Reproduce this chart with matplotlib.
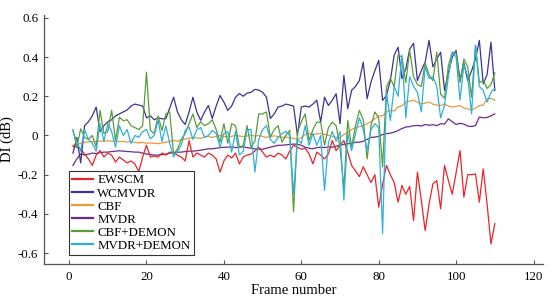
import matplotlib
matplotlib.use("Agg")
import matplotlib.pyplot as plt
import numpy as np

plt.rcParams['font.family'] = ['Liberation Serif', 'DejaVu Serif']

frames = list(range(1, 111))

ewscm = [-0.055, -0.06, -0.07, -0.094, -0.12, -0.153, -0.1, -0.077, -0.11, -0.09,
         -0.1, -0.136, -0.11, -0.125, -0.14, -0.13, -0.145, -0.184, -0.11, -0.05,
         -0.11, -0.105, -0.11, -0.09, -0.1, -0.085, -0.09, -0.1, -0.11, -0.13,
         -0.026, -0.11, -0.09, -0.1, -0.11, -0.09, -0.1, -0.12, -0.187, -0.13,
         -0.1, -0.115, -0.09, -0.145, -0.11, -0.1, -0.095, -0.08, -0.06, -0.085,
         -0.11, -0.1, -0.11, -0.09, -0.1, -0.12, -0.08, -0.05, -0.06, -0.07,
         -0.065, -0.094, -0.145, -0.085, -0.1, -0.12, -0.094, -0.026, -0.077, -0.05,
         -0.026, -0.085, -0.153, -0.18, -0.21, -0.16, -0.2, -0.24, -0.2, -0.366,
         -0.25, -0.153, -0.2, -0.24, -0.34, -0.255, -0.3, -0.26, -0.434, -0.187,
         -0.33, -0.485, -0.35, -0.247, -0.23, -0.374, -0.153, -0.23, -0.3, -0.19,
         -0.077, -0.315, -0.2, -0.2, -0.196, -0.34, -0.17, -0.35, -0.553, -0.45]

wcmvdr = [-0.09, -0.01, -0.14, 0.05, 0.07, 0.10, 0.145, 0.02, 0.05, 0.07,
          0.08, 0.10, 0.11, 0.12, 0.13, 0.15, 0.16, 0.155, 0.15, 0.09,
          0.10, 0.08, 0.09, 0.085, 0.085, 0.14, 0.195, 0.12, 0.08, 0.056,
          0.12, 0.195, 0.12, 0.077, 0.12, 0.153, 0.087, 0.15, 0.204, 0.17,
          0.128, 0.15, 0.195, 0.214, 0.20, 0.216, 0.22, 0.235, 0.232, 0.22,
          0.195, 0.087, 0.11, 0.145, 0.15, 0.16, 0.155, 0.15, 0.00, 0.145,
          0.15, 0.145, 0.16, 0.18, 0.068, 0.195, 0.153, 0.18, 0.213, 0.06,
          0.306, 0.136, 0.23, 0.25, 0.28, 0.374, 0.187, 0.272, 0.33, 0.383,
          0.179, 0.204, 0.28, 0.41, 0.45, 0.29, 0.34, 0.44, 0.47, 0.28,
          0.33, 0.374, 0.485, 0.35, 0.39, 0.425, 0.23, 0.32, 0.40, 0.434,
          0.28, 0.37, 0.28, 0.33, 0.39, 0.485, 0.264, 0.31, 0.476, 0.23]

cbf = [-0.05, -0.045, -0.04, -0.035, -0.033, -0.03, -0.032, -0.028, -0.03, -0.027,
       -0.03, -0.028, -0.032, -0.03, -0.034, -0.03, -0.036, -0.038, -0.035, -0.04,
       -0.038, -0.04, -0.042, -0.038, -0.035, -0.03, -0.025, -0.03, -0.022, -0.018,
       -0.015, -0.01, -0.012, -0.015, -0.008, -0.005, -0.01, -0.005, 0.0, -0.005,
       -0.008, -0.004, 0.0, -0.003, -0.006, -0.002, 0.002, -0.003, 0.0, -0.005,
       -0.01, -0.005, -0.002, -0.006, -0.01, -0.008, -0.012, -0.015, -0.02, -0.012,
       0.005, 0.01, 0.005, 0.008, 0.01, 0.006, 0.0, -0.005, -0.01, -0.01,
       0.005, 0.015, 0.03, 0.04, 0.045, 0.05, 0.06, 0.07, 0.085, 0.1,
       0.1, 0.12, 0.128, 0.125, 0.145, 0.15, 0.17, 0.175, 0.18, 0.17,
       0.16, 0.165, 0.17, 0.16, 0.155, 0.153, 0.16, 0.15, 0.145, 0.148,
       0.153, 0.14, 0.136, 0.13, 0.14, 0.153, 0.155, 0.187, 0.19, 0.18]

mvdr = [-0.153, -0.12, -0.094, -0.1, -0.095, -0.09, -0.092, -0.088, -0.085, -0.085,
        -0.082, -0.08, -0.078, -0.08, -0.082, -0.083, -0.085, -0.085, -0.09, -0.095,
        -0.097, -0.1, -0.1, -0.098, -0.095, -0.09, -0.088, -0.085, -0.085, -0.082,
        -0.08, -0.08, -0.078, -0.075, -0.072, -0.068, -0.068, -0.065, -0.062, -0.06,
        -0.06, -0.058, -0.062, -0.06, -0.058, -0.062, -0.065, -0.068, -0.07, -0.07,
        -0.065, -0.06, -0.055, -0.05, -0.05, -0.048, -0.046, -0.044, -0.045, -0.05,
        -0.06, -0.065, -0.068, -0.062, -0.06, -0.062, -0.058, -0.06, -0.055, -0.05,
        -0.045, -0.042, -0.04, -0.035, -0.034, -0.03, -0.02, -0.01, -0.008, -0.005,
        0.005, 0.009, 0.012, 0.017, 0.025, 0.035, 0.043, 0.045, 0.05, 0.051,
        0.048, 0.056, 0.052, 0.055, 0.05, 0.06, 0.058, 0.085, 0.07, 0.056,
        0.062, 0.058, 0.048, 0.046, 0.05, 0.094, 0.09, 0.092, 0.1, 0.11]

cbf_demon = [0.03, -0.06, 0.034, -0.01, -0.02, 0.0, -0.06, 0.128, 0.01, 0.02,
             0.128, -0.025, 0.093, 0.075, 0.08, 0.05, 0.04, 0.03, 0.05, 0.323,
             0.026, 0.01, 0.1, 0.025, 0.11, 0.12, -0.094, -0.07, -0.02, 0.01,
             0.06, 0.11, 0.04, 0.07, 0.05, 0.06, 0.08, 0.03, -0.034, 0.06,
             -0.04, 0.06, 0.05, -0.06, -0.05, 0.05, -0.06, -0.03, 0.11, 0.11,
             0.12, -0.009, 0.03, 0.05, -0.034, 0.0, 0.026, -0.39, 0.017, 0.07,
             0.11, -0.026, 0.03, 0.068, 0.068, -0.05, 0.04, 0.068, 0.05, -0.06,
             -0.27, 0.077, -0.06, 0.05, 0.128, 0.08, -0.12, 0.05, 0.12, 0.09,
             -0.16, 0.247, 0.29, 0.25, 0.41, 0.40, 0.27, 0.434, 0.30, 0.26,
             0.25, 0.37, 0.31, 0.28, 0.425, 0.21, 0.19, 0.357, 0.425, 0.42,
             0.27, 0.39, 0.35, 0.195, 0.46, 0.27, 0.28, 0.24, 0.26, 0.32]

mvdr_demon = [0.02, -0.03, -0.08, 0.03, -0.02, -0.04, -0.08, 0.06, -0.03, 0.06,
              0.02, -0.06, 0.05, 0.0, 0.03, -0.04, 0.0, -0.01, 0.02, 0.03,
              -0.017, 0.0, 0.077, -0.03, 0.05, -0.04, -0.11, -0.08, -0.05, 0.026,
              0.043, -0.02, 0.03, 0.04, -0.01, 0.0, 0.026, 0.01, -0.06, 0.01,
              0.02, -0.085, 0.02, -0.1, -0.08, 0.03, 0.03, -0.187, -0.02, 0.03,
              0.05, -0.02, -0.04, -0.01, 0.01, 0.02, 0.0, -0.3, -0.02, -0.04,
              0.05, -0.05, 0.01, -0.05, 0.0, -0.28, -0.04, 0.02, -0.03, 0.02,
              -0.33, 0.01, -0.077, 0.009, 0.09, 0.03, -0.077, 0.03, 0.06, 0.04,
              -0.5, 0.22, 0.076, 0.25, 0.2, 0.41, 0.09, 0.3, 0.25, 0.22,
              0.12, 0.35, 0.29, 0.3, 0.25, 0.09, 0.153, 0.3, 0.425, 0.4,
              0.18, 0.36, 0.3, 0.11, 0.46, 0.25, 0.23, 0.17, 0.22, 0.24]

labels = ['EWSCM', 'WCMVDR', 'CBF', 'MVDR', 'CBF+DEMON', 'MVDR+DEMON']
colors = ['#e8252a', '#3b3493', '#e89a3c', '#6a2c8c', '#5b9b3a', '#2eb0dc']
series = [ewscm, wcmvdr, cbf, mvdr, cbf_demon, mvdr_demon]

xticks = [0, 20, 40, 60, 80, 100, 120]
yticks = [-0.6, -0.4, -0.2, 0, 0.2, 0.4, 0.6]
ytick_labels = ['-0.6', '-0.4', '-0.2', '0', '0.2', '0.4', '0.6']

fig = plt.figure(figsize=(5.56, 3.04), dpi=100)
ax = fig.add_axes([0.079, 0.132, 0.898, 0.819])

draw_order = [2, 3, 0, 1, 4, 5]
handles = {}
for i in draw_order:
    h, = ax.plot(frames, series[i], color=colors[i], lw=0.9, label=labels[i])
    handles[i] = h

ax.set_xlim(-6.5, 122.5)
ax.set_ylim(-0.655, 0.615)
ax.set_xticks(xticks)
ax.set_yticks(yticks)
ax.set_yticklabels(ytick_labels)
ax.tick_params(direction='in', length=3, width=0.8, color='#555555', labelsize=9.3)
ax.tick_params(axis='y', pad=4)
ax.tick_params(axis='x', pad=5)

for s in ['top', 'right']:
    ax.spines[s].set_visible(False)
for s in ['left', 'bottom']:
    ax.spines[s].set_color('#555555')
    ax.spines[s].set_linewidth(0.9)

ax.set_xlabel('Frame number', fontsize=10.5, labelpad=1)
ax.set_ylabel('DI (dB)', fontsize=10.5, labelpad=3)

leg = ax.legend([handles[i] for i in range(6)], labels, loc='lower left',
                bbox_to_anchor=(0.045, 0.025), fontsize=9.3, frameon=True, fancybox=False,
                edgecolor='#333333', framealpha=1, borderpad=0.25, labelspacing=0.08,
                handlelength=1.6, handletextpad=0.35, borderaxespad=0.2)
leg.get_frame().set_linewidth(0.8)
for line in leg.get_lines():
    line.set_linewidth(1.6)

fig.savefig('out.png', dpi=100)
